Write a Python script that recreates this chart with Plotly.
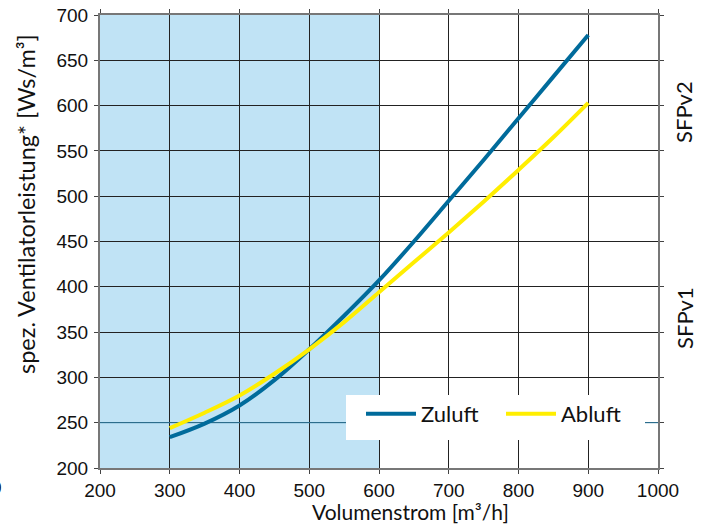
import plotly.graph_objects as go

volumenstrom = [300, 350, 400, 450, 500, 550, 600, 650, 700, 750, 800, 850, 900]
zuluft = [234, 249, 269, 297, 331, 368, 407, 450, 495, 540, 586, 632, 678]
abluft = [244, 261, 280, 304, 331, 361, 394, 427, 460, 494, 529, 565, 603]

x_ticks = [200, 300, 400, 500, 600, 700, 800, 900, 1000]
y_ticks = [200, 250, 300, 350, 400, 450, 500, 550, 600, 650, 700]

BLUE = "#006b9b"
YELLOW = "#ffee00"
SHADE = "#c0e3f5"
TXT = "Lato"
TICKF = "Liberation Sans"

fig = go.Figure()
fig.add_trace(go.Scatter(x=volumenstrom, y=zuluft, name="Zuluft", mode="lines",
                         line=dict(color=BLUE, width=4, shape="spline")))
fig.add_trace(go.Scatter(x=volumenstrom, y=abluft, name="Abluft", mode="lines",
                         line=dict(color=YELLOW, width=4, shape="spline")))

fig.add_shape(type="rect", x0=200, x1=600, y0=200, y1=700, xref="x", yref="y",
              fillcolor=SHADE, line=dict(width=0), layer="below")
fig.add_shape(type="line", x0=200, x1=1003, y0=250, y1=250, xref="x", yref="y",
              line=dict(color="#2f7fa6", width=1), layer="between")

W, H = 708, 527
L, R, T, B = 100, 50, 15, 59
pw, ph = W - L - R, H - T - B


def px2x(px):
    return (px - L) / pw


def px2y(py):
    return (H - B - py) / ph


# white legend box
fig.add_shape(type="rect", x0=px2x(346), x1=px2x(645), y0=px2y(440), y1=px2y(395),
              xref="paper", yref="paper", fillcolor="white", line=dict(width=0),
              layer="above")

fig.update_xaxes(range=[200, 1000], tickvals=x_ticks, showgrid=True, gridcolor="#222",
                 gridwidth=1, showline=True, linecolor="#777", linewidth=2, mirror="ticks",
                 ticks="outside", ticklen=4, tickcolor="#444", zeroline=False,
                 tickfont=dict(family=TICKF, size=19, color="#111"))
fig.update_yaxes(range=[200, 700], tickvals=y_ticks, showgrid=True, gridcolor="#222",
                 gridwidth=1, showline=True, linecolor="#777", linewidth=2, mirror="ticks",
                 ticks="outside", ticklen=4, tickcolor="#444", zeroline=False,
                 ticklabelstandoff=2,
                 tickfont=dict(family=TICKF, size=19, color="#111"))

annotations = [
    dict(text="Volumenstrom [m³/h]", x=410, y=511, size=21),
    dict(text="spez. Ventilatorleistung* [Ws/m³]", x=26, y=204, textangle=-90, size=23.5),
    dict(text="SFPv2", x=684, y=112, textangle=-90, size=22),
    dict(text="SFPv1", x=684, y=318, textangle=-90, size=22),
    dict(text="0", x=-4, y=487, size=19, font=TICKF),
    dict(text="30", x=80, y=536, size=19, font=TICKF),
]
for a in annotations:
    fig.add_annotation(text=a["text"], x=px2x(a["x"]), y=px2y(a["y"]),
                       xref="paper", yref="paper", showarrow=False,
                       textangle=a.get("textangle", 0), xanchor="center", yanchor="middle",
                       font=dict(family=a.get("font", TXT), size=a["size"], color="#111"))

fig.update_layout(
    width=W, height=H, margin=dict(l=L, r=R, t=T, b=B, autoexpand=False),
    paper_bgcolor="white", plot_bgcolor="white",
    showlegend=True,
    legend=dict(orientation="h", x=px2x(361), y=px2y(393),
                xanchor="left", yanchor="top", bgcolor="rgba(0,0,0,0)",
                font=dict(family=TXT, size=22, color="#111"),
                itemwidth=50, entrywidth=75, tracegroupgap=0,
                borderwidth=0),
)

fig.write_html("out.html")
